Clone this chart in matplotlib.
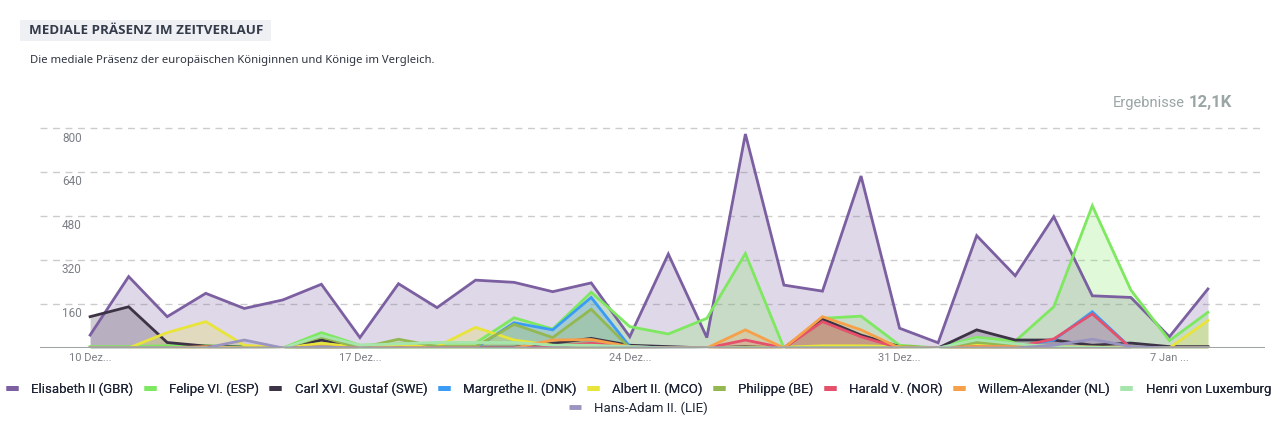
import matplotlib
matplotlib.use("Agg")
import matplotlib.pyplot as plt
import matplotlib.transforms as mtransforms
from matplotlib.lines import Line2D
import numpy as np

# ---------------- data ----------------
dates = ["10 Dez", "11 Dez", "12 Dez", "13 Dez", "14 Dez", "15 Dez", "16 Dez", "17 Dez",
         "18 Dez", "19 Dez", "20 Dez", "21 Dez", "22 Dez", "23 Dez", "24 Dez", "25 Dez",
         "26 Dez", "27 Dez", "28 Dez", "29 Dez", "30 Dez", "31 Dez", "1 Jan", "2 Jan",
         "3 Jan", "4 Jan", "5 Jan", "6 Jan", "7 Jan", "8 Jan"]

elisabeth = [47, 260, 114, 199, 144, 175, 232, 38, 234, 147, 247, 239, 205, 237, 41,
             342, 38, 779, 229, 207, 626, 72, 19, 409, 263, 478, 190, 184, 41, 215]
felipe = [5, 5, 8, 8, 5, 0, 56, 10, 15, 18, 18, 110, 69, 203, 78,
          51, 108, 344, 0, 108, 116, 10, 0, 39, 25, 150, 518, 211, 27, 130]
carl = [114, 150, 20, 7, 3, 0, 29, 3, 8, 3, 3, 3, 17, 35, 10,
        5, 0, 5, 0, 105, 47, 5, 0, 66, 29, 29, 10, 18, 5, 5]
margrethe = [0, 0, 0, 0, 0, 0, 5, 5, 0, 0, 0, 92, 66, 184, 5,
             0, 0, 0, 0, 0, 0, 0, 0, 0, 5, 29, 132, 0, 0, 0]
albert = [0, 0, 56, 96, 10, 0, 17, 3, 10, 5, 75, 29, 10, 5, 0,
          0, 0, 3, 3, 8, 8, 5, 0, 15, 12, 5, 3, 3, 0, 100]
philippe = [0, 0, 0, 0, 0, 0, 40, 0, 32, 5, 5, 86, 38, 141, 0,
            0, 0, 0, 0, 0, 0, 0, 0, 20, 10, 5, 0, 0, 0, 0]
harald = [0, 0, 0, 0, 0, 0, 3, 0, 0, 0, 0, 0, 5, 17, 3,
          0, 0, 29, 0, 96, 41, 0, 0, 5, 3, 33, 124, 0, 0, 0]
willem = [0, 0, 0, 5, 0, 0, 5, 0, 0, 0, 0, 0, 29, 31, 5,
          0, 0, 66, 0, 114, 66, 0, 0, 5, 5, 5, 3, 0, 0, 0]
henri = [0, 0, 0, 0, 0, 0, 45, 10, 15, 20, 20, 20, 10, 10, 5,
         0, 0, 0, 0, 0, 0, 0, 0, 30, 15, 5, 3, 0, 0, 0]
hansadam = [0, 0, 0, 0, 29, 0, 3, 0, 0, 0, 0, 0, 0, 0, 0,
            0, 0, 0, 0, 0, 0, 0, 0, 0, 0, 10, 32, 5, 0, 0]

series_names = ["Elisabeth II (GBR)", "Felipe VI. (ESP)", "Carl XVI. Gustaf (SWE)",
                "Margrethe II. (DNK)", "Albert II. (MCO)", "Philippe (BE)",
                "Harald V. (NOR)", "Willem-Alexander (NL)", "Henri von Luxemburg",
                "Hans-Adam II. (LIE)"]
series_values = [elisabeth, felipe, carl, margrethe, albert, philippe,
                 harald, willem, henri, hansadam]
colors = ["#7b5fa0", "#7ee860", "#3d3346", "#3b9cf5", "#e8e43a", "#93b851",
          "#e5506b", "#f7a04a", "#a6e6ad", "#9a95c0"]

y_ticks = [160, 320, 480, 640, 800]
x_tick_idx = [0, 7, 14, 21, 28]
x_tick_labels = ["10 Dez...", "17 Dez...", "24 Dez...", "31 Dez...", "7 Jan ..."]

# ---------------- figure ----------------
W, H = 1277, 429
fig = plt.figure(figsize=(W / 100, H / 100), dpi=100)
fig.patch.set_facecolor("white")

ax_left, ax_right = 40, 1265
ax_bottom, ax_top = 348, 109
ax = fig.add_axes([ax_left / W, 1 - ax_bottom / H,
                   (ax_right - ax_left) / W, (ax_bottom - ax_top) / H])
ax.set_facecolor("none")

x = np.arange(len(dates))
for vals, c in zip(series_values, colors):
    ax.fill_between(x, 0, vals, color=c, alpha=0.24, linewidth=0, zorder=2)
for vals, c in zip(series_values, colors):
    ax.plot(x, vals, color=c, linewidth=2.0, zorder=3, solid_joinstyle="miter")

ax.set_xlim(-1.30, 30.48)
ax.set_ylim(0, 870)

for sp in ax.spines.values():
    sp.set_visible(False)
ax.axhline(0, color="#9ea3a3", linewidth=2.2, zorder=4)
for t in y_ticks:
    ax.axhline(t, color="#cccccc", linewidth=1, linestyle=(0, (5, 4)), zorder=1)

ax.set_yticks([])
ax.set_xticks([])
trans_y = mtransforms.blended_transform_factory(ax.transAxes, ax.transData)
for t in y_ticks:
    ax.text(22 / (ax_right - ax_left), t - 12, str(t), transform=trans_y,
            ha="left", va="top", fontsize=8.5, color="#7b7f85",
            family="Roboto")
trans_x = mtransforms.blended_transform_factory(ax.transData, ax.transAxes)
for i, lab in zip(x_tick_idx, x_tick_labels):
    ax.text(i, -0.022, lab, transform=trans_x, ha="center", va="top",
            fontsize=8.0, color="#7b7f85", family="Roboto")

# ---------------- titles ----------------
fig.patches.append(plt.Rectangle((20 / W, 1 - 41 / H), 251 / W, 21 / H,
                                 transform=fig.transFigure, facecolor="#eef0f3",
                                 edgecolor="none", zorder=0))
fig.text(29 / W, 1 - 31 / H, "MEDIALE PRÄSENZ IM ZEITVERLAUF", ha="left", va="center",
         fontsize=9.6, fontweight="bold", color="#343b4a", family="Open Sans")
fig.text(30 / W, 1 - 60 / H, "Die mediale Präsenz der europäischen Königinnen und Könige im Vergleich.",
         ha="left", va="center", fontsize=8.1, color="#2e3440", family="Noto Sans")

fig.text(1185 / W, 1 - 103 / H, "Ergebnisse", ha="right", va="center",
         fontsize=10.5, color="#9aa5a5", family="Roboto")
fig.text(1189 / W, 1 - 102 / H, "12,1K", ha="left", va="center",
         fontsize=12, fontweight="bold", color="#9aa5a5", family="Roboto")

# ---------------- legend ----------------
handles = [Line2D([0], [0], color=c, linewidth=3.5, solid_capstyle="butt") for c in colors]
leg_kw = dict(frameon=False, prop={"family": "Roboto", "size": 9.5},
              handlelength=0.9, handletextpad=1.0, columnspacing=0.8)
leg1 = fig.legend(handles[:9], series_names[:9], loc="center", ncol=9,
                  bbox_to_anchor=(0.5, 1 - 389 / H), **leg_kw)
for t in leg1.get_texts():
    t.set_color("#1f2535")
fig.add_artist(leg1)
leg2 = fig.legend(handles[9:], series_names[9:], loc="center", ncol=1,
                  bbox_to_anchor=(0.5, 1 - 408 / H), **leg_kw)
for t in leg2.get_texts():
    t.set_color("#1f2535")

fig.savefig("out.png", dpi=100, facecolor="white")
